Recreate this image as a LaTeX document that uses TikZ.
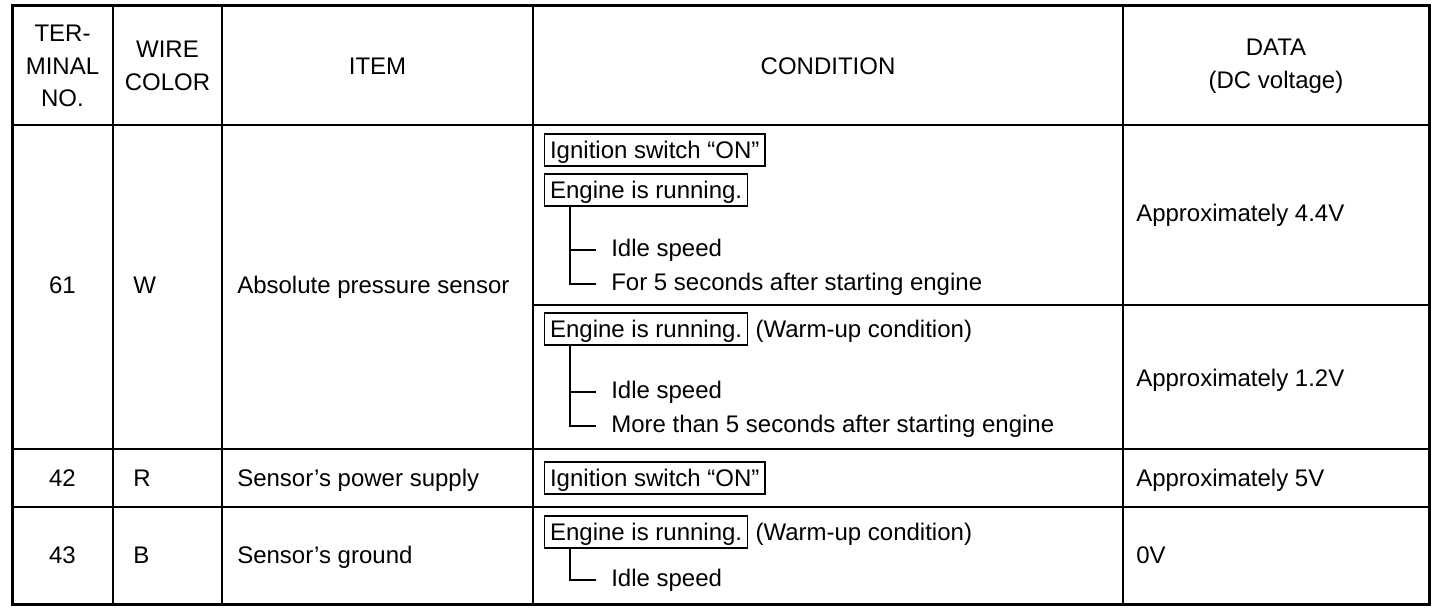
\documentclass[tikz,border=0pt]{standalone}
\usepackage{fontspec}
\setmainfont{Liberation Sans}
\usetikzlibrary{calc}
\begin{document}
\begin{tikzpicture}[x=0.75pt,y=-0.75pt,
  every node/.style={font=\fontsize{18}{24.5}\selectfont, inner sep=0pt},
  txt/.style={anchor=west, text height=12.9pt, text depth=0pt},
  ctr/.style={anchor=center, text height=12.9pt, text depth=0pt},
  hdr/.style={anchor=center, align=center},
  cbox/.style={draw, line width=1.1pt, anchor=west, inner xsep=4pt, minimum height=24pt, text height=12.9pt, text depth=0pt},
  tree/.style={line width=1.5pt},
  outer/.style={line width=2.25pt},
  grid/.style={line width=1.5pt}]
\useasboundingbox (0,0) rectangle (1456,616);

% grid lines
\draw[grid] (113,6) -- (113,604);
\draw[grid] (222,6) -- (222,604);
\draw[grid] (533,6) -- (533,604);
\draw[grid] (1123,6) -- (1123,604);
\draw[grid] (12,125) -- (1429,125);
\draw[grid] (533,305) -- (1429,305);
\draw[grid] (12,449) -- (1429,449);
\draw[grid] (12,507) -- (1429,507);
\draw[outer] (12,6) rectangle (1429,604);

% header
\node[hdr] (hterm) at (62.5,66) {TER-\\MINAL\\NO.};
\node[hdr] (hwire) at (167.5,66) {WIRE\\COLOR};
\node[ctr] (hitem) at (377.5,66) {ITEM};
\node[ctr] (hcond) at (828,66) {CONDITION};
\node[hdr] (hdata) at (1276,66) {DATA\\(DC voltage)};

% row 61
\node[ctr] (t61) at (62.5,285) {61};
\node[txt] (w61) at (133,285) {W};
\node[txt] (i61) at (237,285) {Absolute pressure sensor};

\node[cbox] (ig1) at (544,150) {Ignition switch “ON”};
\node[cbox] (en1) at (544,190) {Engine is running.};
\node[txt] (id1) at (611,248) {Idle speed};
\node[txt] (fv1) at (611,282) {For 5 seconds after starting engine};
\coordinate (tr1) at ($(en1.south west)+(26,0)$);
\draw[tree] (tr1) |- ($(fv1.west)+(-15,2)$);
\draw[tree] ($(tr1 |- id1.west)+(0,2)$) -- ++(26,0);
\node[txt] (d1) at (1136,213) {Approximately 4.4V};

\node[cbox] (en2) at (544,329) {Engine is running.};
\node[txt] (wu2) at ($(en2.east)+(7,0)$) {(Warm-up condition)};
\node[txt] (id2) at (611,390) {Idle speed};
\node[txt] (mt2) at (611,424) {More than 5 seconds after starting engine};
\coordinate (tr2) at ($(en2.south west)+(26,0)$);
\draw[tree] (tr2) |- ($(mt2.west)+(-15,2)$);
\draw[tree] ($(tr2 |- id2.west)+(0,2)$) -- ++(26,0);
\node[txt] (d2) at (1136,378) {Approximately 1.2V};

% row 42
\node[ctr] (t42) at (62.5,478) {42};
\node[txt] (w42) at (133,478) {R};
\node[txt] (i42) at (237,478) {Sensor's power supply};
\node[cbox] (ig3) at (544,478) {Ignition switch “ON”};
\node[txt] (d3) at (1136,478) {Approximately 5V};

% row 43
\node[ctr] (t43) at (62.5,555) {43};
\node[txt] (w43) at (133,555) {B};
\node[txt] (i43) at (237,555) {Sensor's ground};
\node[cbox] (en4) at (544,532) {Engine is running.};
\node[txt] (wu4) at ($(en4.east)+(7,0)$) {(Warm-up condition)};
\node[txt] (id4) at (611,578) {Idle speed};
\coordinate (tr4) at ($(en4.south west)+(26,0)$);
\draw[tree] (tr4) |- ($(id4.west)+(-15,2)$);
\node[txt] (d4) at (1136,555) {0V};
\end{tikzpicture}
\end{document}
